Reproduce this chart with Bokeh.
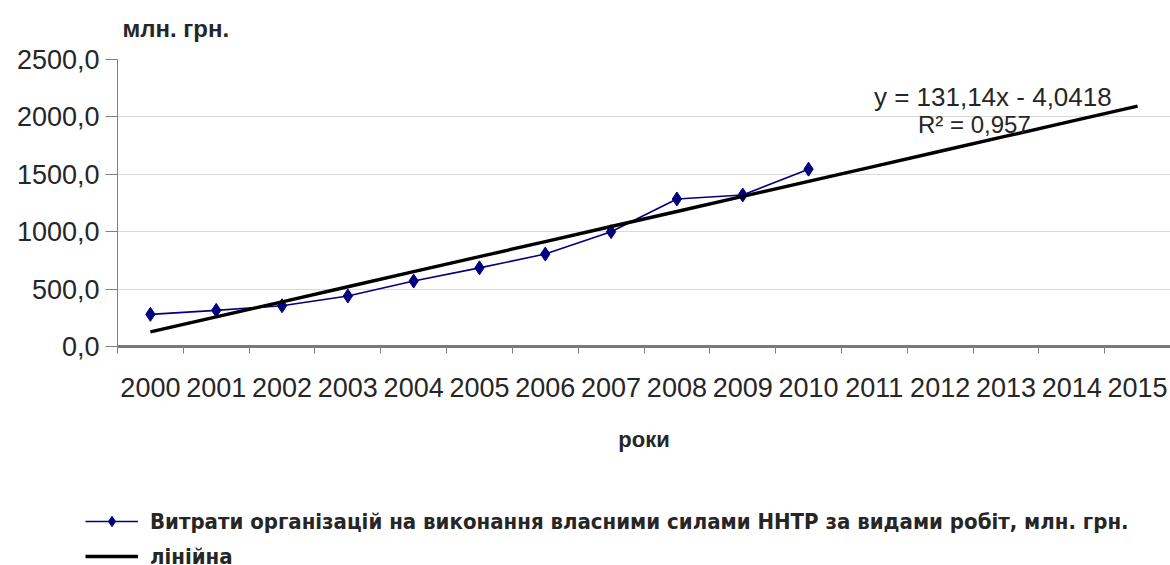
from bokeh.plotting import figure
from bokeh.models import Range1d, FixedTicker, Legend, LegendItem, Label
from bokeh.embed import file_html
from bokeh.resources import INLINE

# Years on the category axis (including the forecast horizon)
years = ["2000", "2001", "2002", "2003", "2004", "2005", "2006", "2007",
         "2008", "2009", "2010", "2011", "2012", "2013", "2014", "2015"]

# Own-resource R&D spending by organisations, mln UAH (2000-2010)
spend = [280, 315, 355, 440, 570, 685, 805, 1000, 1285, 1320, 1545]

# Linear trend y = slope * x + intercept, x = 1 .. 16
slope = 131.14
intercept = -4.0418
r_squared = 0.957

y_ticks = [0, 500, 1000, 1500, 2000, 2500]
y_tick_labels = ["0,0", "500,0", "1000,0", "1500,0", "2000,0", "2500,0"]

series_label = "Витрати організацій на виконання власними силами ННТР за видами робіт, млн. грн."
trend_label = "лінійна"
y_unit = "млн. грн."
x_title = "роки"

FONT = "Liberation Sans"
NARROW = "'Liberation Sans Narrow', 'DejaVu Sans Condensed', 'Liberation Sans'"
TEXT = "#262626"
SERIES_COLOR = "#000080"
WIDTH = 1170

x_all = [i + 1 for i in range(len(years))]
x_spend = x_all[:len(spend)]
trend = [slope * x + intercept for x in x_all]


def strip(height):
    """A bare full-bleed figure used for text strips."""
    f = figure(width=WIDTH, height=height, output_backend="svg", toolbar_location=None,
               x_range=Range1d(0, WIDTH), y_range=Range1d(0, height),
               x_axis_type=None, y_axis_type=None,
               min_border_left=0, min_border_right=0, min_border_top=0, min_border_bottom=0)
    f.outline_line_color = None
    f.xgrid.visible = False
    f.ygrid.visible = False
    return f


# unit caption above the chart
top = strip(45)
top.add_layout(Label(x=122, y=17, text=y_unit, text_baseline="middle",
                     text_font=FONT, text_font_size="24px", text_font_style="bold",
                     text_color=TEXT))

p = figure(width=WIDTH, height=415, output_backend="svg", toolbar_location=None,
           x_range=Range1d(0.5, len(years) + 0.5), y_range=Range1d(0, 2500),
           min_border_left=117, min_border_right=0, min_border_top=14,
           min_border_bottom=114)
p.outline_line_color = None
p.background_fill_color = "white"
p.border_fill_color = "white"

# x axis: labels at category centres, tick marks on category boundaries
xa = p.xaxis[0]
xa.ticker = FixedTicker(ticks=x_all, minor_ticks=[x - 0.5 for x in x_all] + [len(years) + 0.5])
xa.major_label_overrides = {x: y for x, y in zip(x_all, years)}
xa.major_tick_line_color = None
xa.major_tick_out = 0
xa.major_tick_in = 0
xa.minor_tick_out = 7
xa.minor_tick_in = 0
xa.minor_tick_line_color = "#808080"
xa.minor_tick_line_width = 1
xa.axis_line_color = "#7a7a7a"
xa.axis_line_width = 3
xa.major_label_standoff = 24
xa.major_label_text_font = FONT
xa.major_label_text_font_size = "27px"
xa.major_label_text_color = TEXT
xa.axis_label = x_title
xa.axis_label_text_font = FONT
xa.axis_label_text_font_size = "22px"
xa.axis_label_text_font_style = "bold"
xa.axis_label_text_color = TEXT
xa.axis_label_standoff = 27

ya = p.yaxis[0]
ya.ticker = FixedTicker(ticks=y_ticks)
ya.major_label_overrides = {t: s for t, s in zip(y_ticks, y_tick_labels)}
ya.major_tick_out = 12
ya.major_tick_in = 0
ya.major_tick_line_color = "#808080"
ya.minor_tick_line_color = None
ya.axis_line_color = "#808080"
ya.axis_line_width = 1
ya.major_label_standoff = 6
ya.major_label_text_font = FONT
ya.major_label_text_font_size = "27px"
ya.major_label_text_color = TEXT

p.xgrid.grid_line_color = None
p.ygrid.ticker = FixedTicker(ticks=y_ticks)
p.ygrid.grid_line_color = "#d9d9d9"
p.ygrid.grid_line_width = 1

# spending series
p.line(x_spend, spend, line_color=SERIES_COLOR, line_width=1.6)
p.scatter(x_spend, spend, marker="diamond", size=14,
          fill_color=SERIES_COLOR, line_color=SERIES_COLOR)

# linear trend
p.line(x_all, trend, line_color="black", line_width=3.4)

eq_text = "y = {:.2f}x - {:.4f}".format(slope, abs(intercept)).replace(".", ",")
r2_text = "R² = {:.3f}".format(r_squared).replace(".", ",")
p.add_layout(Label(x=13.8, y=2177, text=eq_text, text_align="center",
                   text_baseline="middle", text_font=FONT, text_font_size="26px",
                   text_color=TEXT))
p.add_layout(Label(x=13.52, y=1934, text=r2_text, text_align="center",
                   text_baseline="middle", text_font=FONT, text_font_size="24px",
                   text_color=TEXT))

# legend strip below the chart; its renderers are hidden, only the keys show
lg = figure(width=WIDTH, height=105, output_backend="svg", toolbar_location=None,
            x_range=Range1d(0.5, len(years) + 0.5), y_range=Range1d(0, 2500),
            x_axis_type=None, y_axis_type=None,
            min_border_left=0, min_border_right=0, min_border_top=0, min_border_bottom=0)
lg.outline_line_color = None
lg.xgrid.visible = False
lg.ygrid.visible = False
lg_line = lg.line(x_spend, spend, line_color=SERIES_COLOR, line_width=1.6, visible=False)
lg_mark = lg.scatter(x_spend, spend, marker="diamond", size=14,
                     fill_color=SERIES_COLOR, line_color=SERIES_COLOR, visible=False)
lg_trend = lg.line(x_all, trend, line_color="black", line_width=3.4, visible=False)

legend = Legend(items=[LegendItem(label=series_label, renderers=[lg_line, lg_mark]),
                       LegendItem(label=trend_label, renderers=[lg_trend])],
                location=(85, -4), orientation="vertical",
                glyph_width=53, glyph_height=26, label_height=26,
                label_standoff=12, spacing=9, padding=0, margin=0,
                border_line_color=None, background_fill_alpha=0,
                inactive_fill_alpha=0,
                label_text_font=NARROW, label_text_font_size="22px",
                label_text_font_style="bold", label_text_color=TEXT)
lg.add_layout(legend, "center")

open("out.html", "w").write(file_html([top, p, lg], INLINE))
